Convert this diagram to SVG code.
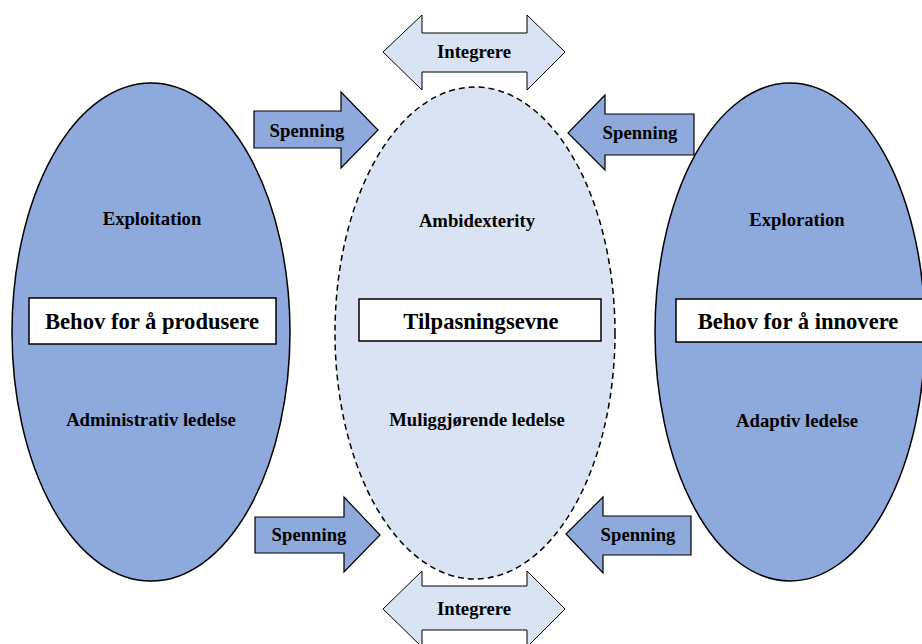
<svg xmlns="http://www.w3.org/2000/svg" width="922" height="644" viewBox="0 0 922 644">
  <style>
    .dark { fill: #8EA9DB; stroke: #000; stroke-width: 1.5; }
    .light { fill: #DAE3F3; stroke: #000; stroke-width: 1; }
    .dash { fill: #DAE3F3; stroke: #000; stroke-width: 1.5; stroke-dasharray: 6 4; }
    .box { fill: #fff; stroke: #000; stroke-width: 1.5; }
    .arrow { fill: #8EA9DB; stroke: #000; stroke-width: 1.2; }
    text { font-family: "Liberation Serif", "Times New Roman", serif; font-weight: bold; fill: #000; text-anchor: middle; }
    .s { font-size: 18.7px; }
    .l { font-size: 22.6px; }
  </style>
  <rect width="922" height="644" fill="#fff"/>

  <g id="left-node">
    <ellipse class="dark" cx="151" cy="332" rx="139" ry="249"/>
    <text class="s" x="152" y="225">Exploitation</text>
    <rect class="box" x="29" y="298" width="247" height="46"/>
    <text class="l" x="152" y="329">Behov for å produsere</text>
    <text class="s" x="151" y="426">Administrativ ledelse</text>
  </g>

  <g id="center-node">
    <ellipse class="dash" cx="475" cy="333" rx="140" ry="246"/>
    <text class="s" x="477" y="227">Ambidexterity</text>
    <rect class="box" x="359" y="299" width="242" height="42"/>
    <text class="l" x="481" y="329">Tilpasningsevne</text>
    <text class="s" x="477" y="426">Muliggjørende ledelse</text>
  </g>

  <g id="right-node">
    <ellipse class="dark" cx="790" cy="332" rx="135" ry="249"/>
    <text class="s" x="797" y="226">Exploration</text>
    <rect class="box" x="676" y="299" width="247" height="43"/>
    <text class="l" x="798" y="329">Behov for å innovere</text>
    <text class="s" x="797" y="427">Adaptiv ledelse</text>
  </g>

  <g id="connectors">
    <g id="integrere-top">
      <polygon class="light" points="383,52 422,15 422,33 527,33 527,15 565,52 527,90 527,72 422,72 422,90"/>
      <text class="s" x="474" y="58">Integrere</text>
    </g>
    <g id="integrere-bottom">
      <polygon class="light" points="383,609 422,571 422,586 527,586 527,571 565,609 527,647 527,630 422,630 422,647"/>
      <text class="s" x="474" y="615">Integrere</text>
    </g>
    <g id="spenning-top-left">
      <polygon class="arrow" points="254,111 341,111 341,92 378,130 341,168 341,148 254,148"/>
      <text class="s" x="307" y="137">Spenning</text>
    </g>
    <g id="spenning-top-right">
      <polygon class="arrow" points="694,114 605,114 605,95 568,133 605,170 605,155 694,155"/>
      <text class="s" x="640" y="139">Spenning</text>
    </g>
    <g id="spenning-bottom-left">
      <polygon class="arrow" points="255,517 344,517 344,497 380,535 344,572 344,553 255,553"/>
      <text class="s" x="309" y="541">Spenning</text>
    </g>
    <g id="spenning-bottom-right">
      <polygon class="arrow" points="691,516 603,516 603,497 566,534 603,573 603,555 691,555"/>
      <text class="s" x="638" y="541">Spenning</text>
    </g>
  </g>
</svg>
